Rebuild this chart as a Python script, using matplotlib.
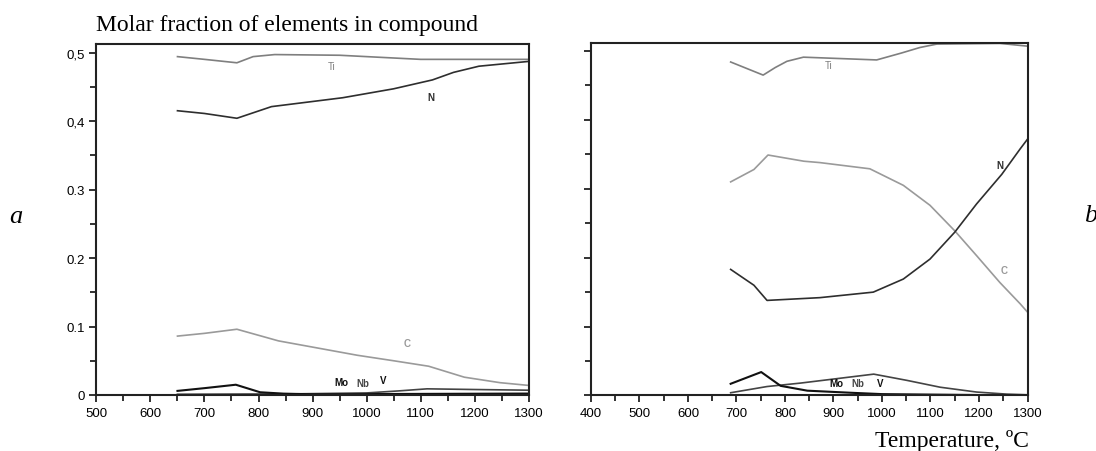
import matplotlib
matplotlib.use("Agg")
import numpy as np
from matplotlib import pyplot as plt
from matplotlib.ticker import MultipleLocator

# panel a (left)
a_ti_t = [650, 700, 760, 790, 830, 950, 1100, 1300]
a_ti_v = [0.494, 0.490, 0.485, 0.494, 0.497, 0.496, 0.490, 0.490]
a_n_t = [650, 700, 760, 824, 956, 1050, 1122, 1161, 1208, 1300]
a_n_v = [0.415, 0.411, 0.404, 0.421, 0.434, 0.447, 0.460, 0.471, 0.480, 0.487]
a_c_t = [650, 700, 760, 837, 983, 1050, 1115, 1181, 1247, 1300]
a_c_v = [0.086, 0.090, 0.096, 0.079, 0.058, 0.050, 0.042, 0.026, 0.018, 0.014]
a_mo_t = [650, 700, 758, 803, 846, 900, 1000, 1300]
a_mo_v = [0.006, 0.010, 0.015, 0.004, 0.002, 0.001, 0.001, 0.001]
a_nb_t = [650, 800, 900, 1000, 1060, 1112, 1200, 1300]
a_nb_v = [0.001, 0.001, 0.002, 0.003, 0.006, 0.009, 0.008, 0.007]
a_v_t = [650, 900, 1300]
a_v_v = [0.000, 0.001, 0.002]

# panel b (right)
b_ti_t = [688, 755, 780, 804, 838, 989, 1040, 1078, 1113, 1243, 1300]
b_ti_v = [0.484, 0.465, 0.476, 0.485, 0.491, 0.487, 0.497, 0.505, 0.510, 0.511, 0.507]
b_c_t = [688, 736, 765, 839, 872, 975, 1044, 1099, 1150, 1195, 1243, 1285, 1300]
b_c_v = [0.310, 0.328, 0.349, 0.340, 0.338, 0.329, 0.305, 0.276, 0.239, 0.203, 0.164, 0.133, 0.121]
b_n_t = [688, 736, 763, 872, 982, 1044, 1099, 1150, 1195, 1247, 1285, 1300]
b_n_v = [0.183, 0.160, 0.138, 0.142, 0.150, 0.169, 0.198, 0.237, 0.278, 0.321, 0.358, 0.372]
b_mo_t = [688, 751, 791, 846, 935, 1000, 1300]
b_mo_v = [0.017, 0.034, 0.014, 0.007, 0.004, 0.002, 0.000]
b_nb_t = [688, 763, 832, 983, 1051, 1120, 1195, 1257, 1300]
b_nb_v = [0.004, 0.013, 0.018, 0.031, 0.022, 0.012, 0.005, 0.002, 0.001]

a_yticks = [0, 0.1, 0.2, 0.3, 0.4, 0.5]
a_ylabels = ["0", "0.1", "0.2", "0.3", "0,4", "0,5"]

c_dark = "#2e2e2e"
c_ti = "#7f7f7f"
c_c = "#9a9a9a"
c_mo = "#111111"
c_nb = "#444444"

fig = plt.figure(figsize=(10.96, 4.52), dpi=100)
ax1 = fig.add_axes([0.0880, 0.1239, 0.3943, 0.7765])
ax2 = fig.add_axes([0.5392, 0.1228, 0.3983, 0.7799])


def style_axes(ax, xmin, ytop):
    ax.set_xlim(xmin, 1300)
    ax.set_ylim(0, ytop)
    ax.xaxis.set_major_locator(MultipleLocator(100))
    ax.xaxis.set_minor_locator(MultipleLocator(50))
    ax.yaxis.set_major_locator(MultipleLocator(0.1))
    ax.yaxis.set_minor_locator(MultipleLocator(0.05))
    ax.tick_params(which="both", direction="out", width=1.3, color="#222222",
                   top=False, right=False)
    ax.tick_params(which="major", length=5, labelsize=9.5)
    ax.tick_params(which="minor", length=4)
    for s in ax.spines.values():
        s.set_linewidth(1.5)
        s.set_color("#222222")
    for lab in ax.get_xticklabels():
        lab.set_family("Liberation Sans")


def lbl(ax, t, v, s, c, bold=True):
    ax.text(t, v, s, color=c, fontsize=7, ha="center", va="center",
            family="Liberation Sans", fontweight="bold" if bold else "normal")


style_axes(ax1, 500, 0.5124)
ax1.set_yticks(a_yticks)
ax1.set_yticklabels(a_ylabels, family="Liberation Sans")
ax1.plot(a_ti_t, a_ti_v, color=c_ti, lw=1.2)
ax1.plot(a_n_t, a_n_v, color=c_dark, lw=1.2)
ax1.plot(a_c_t, a_c_v, color=c_c, lw=1.2)
ax1.plot(a_v_t, a_v_v, color=c_mo, lw=1.6)
ax1.plot(a_nb_t, a_nb_v, color=c_nb, lw=1.2)
ax1.plot(a_mo_t, a_mo_v, color=c_mo, lw=1.5)
lbl(ax1, 935, 0.480, "Ti", c_ti, bold=False)
lbl(ax1, 1120, 0.4345, "N", c_dark)
lbl(ax1, 1075, 0.076, "C", c_c)
lbl(ax1, 953, 0.0185, "Mo", c_mo)
lbl(ax1, 994, 0.0175, "Nb", c_nb)
lbl(ax1, 1030, 0.0225, "V", c_mo)

style_axes(ax2, 400, 0.5116)
ax2.set_yticks(a_yticks)
ax2.set_yticklabels([])
ax2.plot(b_ti_t, b_ti_v, color=c_ti, lw=1.2)
ax2.plot(b_c_t, b_c_v, color=c_c, lw=1.2)
ax2.plot(b_n_t, b_n_v, color=c_dark, lw=1.2)
ax2.plot([690, 1300], [0.001, 0.001], color=c_mo, lw=1.3)
ax2.plot(b_nb_t, b_nb_v, color=c_nb, lw=1.2)
ax2.plot(b_mo_t, b_mo_v, color=c_mo, lw=1.5)
lbl(ax2, 889, 0.479, "Ti", c_ti, bold=False)
lbl(ax2, 1243, 0.335, "N", c_dark)
lbl(ax2, 1252, 0.182, "C", c_c)
lbl(ax2, 905, 0.0177, "Mo", c_mo)
lbl(ax2, 950, 0.0177, "Nb", c_nb)
lbl(ax2, 996, 0.0177, "V", c_mo)

fig.text(0.088, 0.9314, "Molar fraction of elements in compound", family="Liberation Serif",
         fontsize=17, ha="left", va="baseline")
fig.text(0.939, 0.0118, "Temperature, \u00baC", family="Liberation Serif",
         fontsize=17, ha="right", va="baseline")
fig.text(0.0146, 0.52, "a", family="Liberation Serif", style="italic", fontsize=19,
         ha="center", va="center")
fig.text(0.9954, 0.522, "b", family="Liberation Serif", style="italic", fontsize=19,
         ha="center", va="center")

fig.savefig("out.png", dpi=100)
